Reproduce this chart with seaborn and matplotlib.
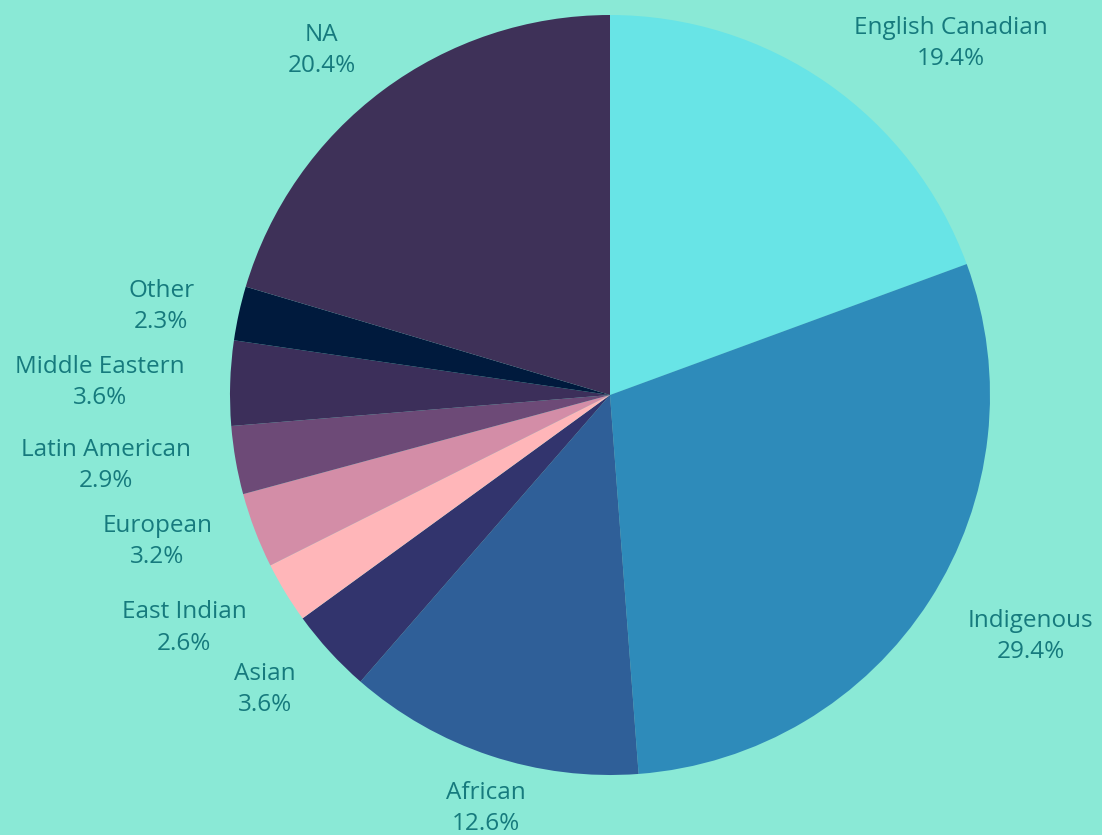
import numpy as np
import matplotlib
matplotlib.use("Agg")
import matplotlib.pyplot as plt
import seaborn as sns

# data (clockwise from 12 o'clock)
groups = ["English Canadian", "Indigenous", "African", "Asian", "East Indian",
          "European", "Latin American", "Middle Eastern", "Other", "NA"]
shares = [19.4, 29.4, 12.6, 3.6, 2.6, 3.2, 2.9, 3.6, 2.3, 20.4]
colors = ["#68E4E6", "#2E8BBA", "#2F5F98", "#32346D", "#FFB6B9",
          "#D38DA7", "#6D4A77", "#3C2F5A", "#001A3D", "#3E3158"]

BG = "#8AE9D6"
TXT = "#167A7D"

sns.set_theme(style="white")
plt.rcParams["font.family"] = ["Open Sans", "DejaVu Sans"]

fig = plt.figure(figsize=(11.02, 8.35), dpi=100, facecolor=BG)
W, H = 1102, 835
cx, cy, R = 610, 395, 380
ax = fig.add_axes([(cx - R) / W, (H - cy - R) / H, 2 * R / W, 2 * R / H])
ax.set_facecolor(BG)

wedges, _ = ax.pie(shares, colors=colors, startangle=90, counterclock=False,
                   radius=1, wedgeprops=dict(linewidth=0))
ax.set_xlim(-1, 1)
ax.set_ylim(-1, 1)
ax.axis("off")

# outside labels, pushed a bit further sideways than up/down
for w, name, val in zip(wedges, groups, shares):
    ang = np.deg2rad((w.theta1 + w.theta2) / 2)
    c, s = np.cos(ang), np.sin(ang)
    ha = "left" if c > 0.35 else ("right" if c < -0.35 else "center")
    if s > 0.5:
        va, dy = "bottom", 1.04
    elif s < -0.5:
        va, dy = "top", 1.04
    else:
        va, dy = "center", 1.08
    if ha == "center":
        dx, dy = 1.04, 1.07
    else:
        dx = 1.12
    ax.text(dx * c, dy * s, f"{name}\n{val:.1f}%", ha=ha, va=va,
            multialignment="center", color=TXT, fontsize=17.5,
            linespacing=1.4, clip_on=False)

fig.savefig("out.png", dpi=100, facecolor=BG)
